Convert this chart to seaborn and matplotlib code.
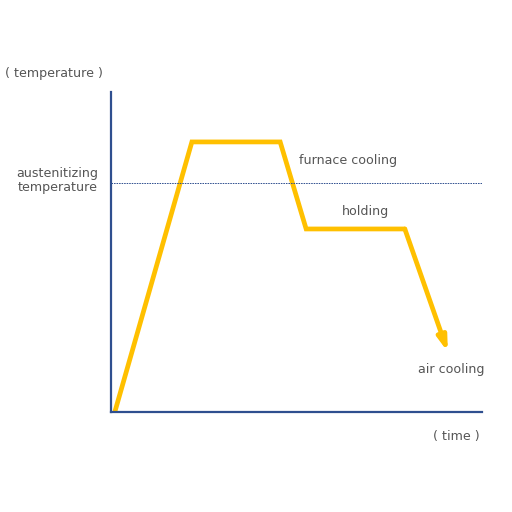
import matplotlib
matplotlib.use('Agg')
import matplotlib.pyplot as plt
import seaborn as sns
import pandas as pd

# heat treatment profile (arbitrary units, 0-100)
time_pts = [1.1, 21.8, 45.6, 52.6, 79.2]
temp_pts = [0.3, 84.4, 84.4, 57.2, 57.2]
arrow_end = (90.8, 18.75)
austenitizing = 71.6

LINE = '#FFC000'
AXIS = '#2F4F8F'
TXT = '#555555'

sns.set_theme(style='white')
plt.rcParams['font.family'] = ['DejaVu Sans']

fig = plt.figure(figsize=(5.12, 5.12), dpi=100)
ax = fig.add_axes([0.2168, 0.1953, 0.7246, 0.625])

df = pd.DataFrame({'time': time_pts, 'temp': temp_pts})
sns.lineplot(data=df, x='time', y='temp', sort=False, color=LINE, lw=3.4, ax=ax,
             solid_joinstyle='miter')
ax.annotate('', xy=arrow_end, xytext=(time_pts[-1], temp_pts[-1]),
            arrowprops=dict(arrowstyle='-|>,head_length=0.7,head_width=0.22',
                            color=LINE, lw=3.4, shrinkA=0, shrinkB=0))

ax.axhline(austenitizing, color=AXIS, lw=0.7, ls=(0, (1.6, 1)))

ax.set_xlim(0, 100)
ax.set_ylim(0, 100)
ax.set_xticks([])
ax.set_yticks([])
ax.set_xlabel('')
ax.set_ylabel('')
for s in ['top', 'right']:
    ax.spines[s].set_visible(False)
for s in ['left', 'bottom']:
    ax.spines[s].set_color(AXIS)
    ax.spines[s].set_linewidth(1.6)

fs = 9.1
ax.text(-28.6, 105.9, '( temperature )', ha='left', va='center', fontsize=fs, color=TXT, clip_on=False)
ax.text(-3.5, 72.5, 'austenitizing\ntemperature', ha='right', va='center', fontsize=fs,
        color=TXT, multialignment='right', linespacing=1.1, clip_on=False)
ax.text(50.7, 78.75, 'furnace cooling', ha='left', va='center', fontsize=fs, color=TXT)
ax.text(68.7, 62.8, 'holding', ha='center', va='center', fontsize=fs, color=TXT)
ax.text(82.7, 13.4, 'air cooling', ha='left', va='center', fontsize=fs, color=TXT)
ax.text(86.8, -7.5, '( time )', ha='left', va='center', fontsize=fs, color=TXT, clip_on=False)

fig.savefig('out.png', dpi=100)
